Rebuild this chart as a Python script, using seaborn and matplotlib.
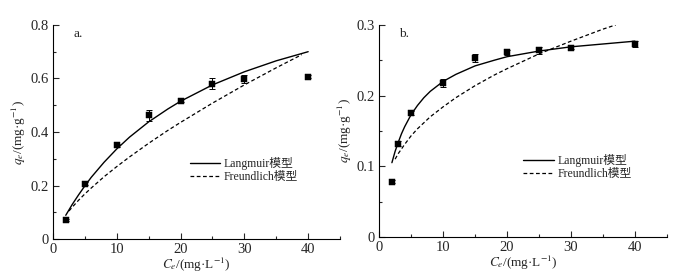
import pandas as pd
import seaborn as sns
import matplotlib
matplotlib.use("Agg")
from matplotlib import pyplot as plt
from matplotlib.ticker import MultipleLocator, FuncFormatter

# measured points
ce_a = [2, 5, 10, 15, 20, 25, 30, 40]
qe_a = [0.070, 0.207, 0.350, 0.462, 0.517, 0.580, 0.597, 0.607]
err_a = [0.004, 0.005, 0.006, 0.022, 0.006, 0.020, 0.015, 0.006]

ce_b = [2, 3, 5, 10, 15, 20, 25, 30, 40]
qe_b = [0.078, 0.132, 0.175, 0.218, 0.253, 0.261, 0.264, 0.268, 0.273]
err_b = [0.002, 0.003, 0.003, 0.006, 0.006, 0.003, 0.005, 0.002, 0.004]

# model curves
lang_x_a = [2, 3, 4, 5, 6, 8, 10, 12, 15, 18, 20, 25, 30, 35, 40]
lang_y_a = [0.089, 0.129, 0.165, 0.199, 0.231, 0.287, 0.337, 0.381, 0.438, 0.486, 0.515, 0.576, 0.625, 0.666, 0.700]
freu_x_a = [2.5, 3, 4, 5, 6, 8, 10, 12, 15, 18, 20, 25, 30, 35, 39]
freu_y_a = [0.105, 0.119, 0.145, 0.169, 0.191, 0.233, 0.271, 0.307, 0.358, 0.406, 0.436, 0.508, 0.576, 0.640, 0.689]

lang_x_b = [2, 2.5, 3, 3.5, 4, 5, 6, 7, 8, 10, 12, 15, 18, 20, 25, 30, 35, 40]
lang_y_b = [0.105, 0.121, 0.134, 0.146, 0.156, 0.173, 0.186, 0.197, 0.206, 0.220, 0.230, 0.242, 0.250,
            0.255, 0.263, 0.269, 0.273, 0.277]
freu_x_b = [2.5, 3, 4, 5, 6, 8, 10, 12, 15, 18, 20, 25, 30, 35, 37]
freu_y_b = [0.110, 0.118, 0.131, 0.143, 0.153, 0.170, 0.184, 0.197, 0.214, 0.229, 0.238, 0.259, 0.277, 0.294, 0.300]

sns.set_style("ticks")
plt.rcParams["font.family"] = ["Liberation Serif", "Noto Sans CJK SC"]
plt.rcParams["mathtext.fontset"] = "stix"
plt.rcParams["font.size"] = 9


def fmt(v, pos):
    return "0" if abs(v) < 1e-9 else f"{v:g}"


def draw(ax, ce, qe, err, lx, ly, fx, fy, ymax, ystep, tag, leg_anchor):
    sns.lineplot(x=lx, y=ly, ax=ax, color="black", linewidth=1.0, label="Langmuir模型")
    sns.lineplot(x=fx, y=fy, ax=ax, color="black", linewidth=0.9, linestyle=(0, (3, 2)),
                 label="Freundlich模型")
    ax.errorbar(ce, qe, yerr=err, fmt="none", ecolor="black", elinewidth=0.7, capsize=2, capthick=0.7)
    sns.scatterplot(x=ce, y=qe, ax=ax, marker="s", color="black", s=18, edgecolor="black", zorder=5)

    ax.set_xlim(0, 45)
    ax.set_ylim(0, ymax)
    ax.xaxis.set_major_locator(MultipleLocator(10))
    ax.xaxis.set_minor_locator(MultipleLocator(5))
    ax.yaxis.set_major_locator(MultipleLocator(ystep))
    ax.yaxis.set_minor_locator(MultipleLocator(ystep / 2))
    ax.yaxis.set_major_formatter(FuncFormatter(fmt))
    ax.tick_params(which="major", direction="in", length=4, width=0.8, labelsize=10.5, pad=3)
    ax.tick_params(which="minor", direction="in", length=2.5, width=0.8)
    sns.despine(ax=ax)
    for s in ["left", "bottom"]:
        ax.spines[s].set_linewidth(0.8)
        ax.spines[s].set_color("black")

    ax.set_xlabel(r"$C_e$/(mg·L$^{-1}$)", fontsize=9.5, labelpad=0)
    ax.set_ylabel(r"$q_e$/(mg·g$^{-1}$)", fontsize=9.5, labelpad=2)
    ax.text(0.07, 0.985, tag, transform=ax.transAxes, fontsize=9.5, va="top")
    ax.legend(loc="upper left", bbox_to_anchor=leg_anchor, frameon=False, fontsize=8.5,
              handlelength=2.6, handletextpad=0.3, labelspacing=0.1, borderpad=0)


fig = plt.figure(figsize=(6.77, 2.80), dpi=100)
ax1 = fig.add_axes([0.0783, 0.146, 0.424, 0.765])
ax2 = fig.add_axes([0.560, 0.154, 0.425, 0.757])

draw(ax1, ce_a, qe_a, err_a, lang_x_a, lang_y_a, freu_x_a, freu_y_a, 0.8, 0.2, "a.", (0.455, 0.41))
draw(ax2, ce_b, qe_b, err_b, lang_x_b, lang_y_b, freu_x_b, freu_y_b, 0.3, 0.1, "b.", (0.48, 0.42))

fig.savefig("out.png", dpi=100)
